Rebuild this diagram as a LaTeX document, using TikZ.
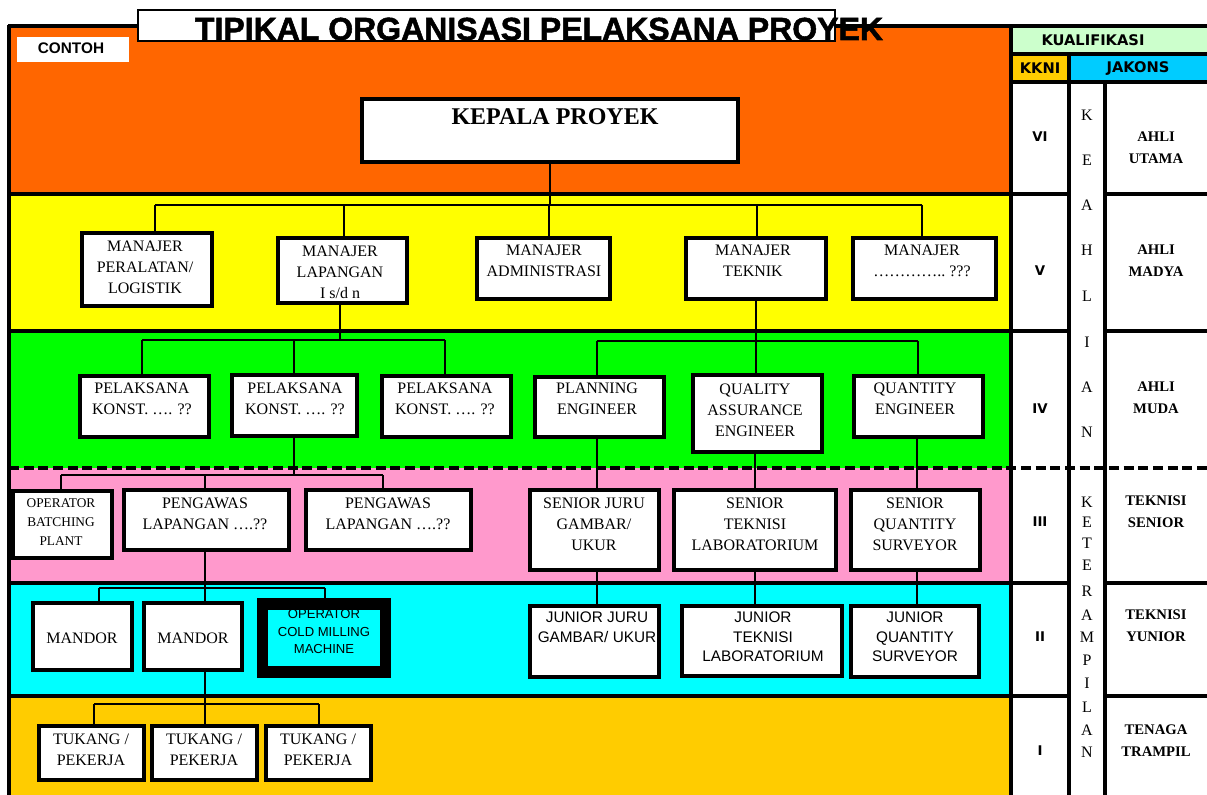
\documentclass[tikz,border=0pt]{standalone}
\usepackage{fontspec}
\setmainfont{Liberation Serif}
\newfontfamily\arialf{Liberation Sans}
\newfontfamily\titlef[BoldFeatures={FakeBold=1.6}]{Liberation Sans}
\newfontfamily\verdf{DejaVu Sans}
\usetikzlibrary{fit}
\definecolor{cOrange}{HTML}{FF6600}
\definecolor{cYellow}{HTML}{FFFF00}
\definecolor{cGreen}{HTML}{00FF00}
\definecolor{cPink}{HTML}{FF99CC}
\definecolor{cCyan}{HTML}{00FFFF}
\definecolor{cGold}{HTML}{FFCC00}
\definecolor{cLight}{HTML}{CCFFCC}
\definecolor{cJak}{HTML}{00CCFF}
\begin{document}
\begin{tikzpicture}[x=0.75pt,y=-0.75pt,
  box/.style={draw=black,fill=white,line width=2.4pt,inner sep=0pt},
  conn/.style={line width=2.2pt},
  grid/.style={line width=2.4pt},
  bt/.style={font=\fontsize{12}{15.75}\selectfont,align=center,inner sep=0pt},
  sbt/.style={font=\fontsize{10}{14}\selectfont,align=center,inner sep=0pt},
  st/.style={font=\arialf\fontsize{11.5}{14.6}\selectfont,align=center,inner sep=0pt},
  hd/.style={font=\verdf\bfseries\fontsize{11}{13}\selectfont,inner sep=0pt},
  rn/.style={font=\verdf\bfseries\fontsize{10}{12}\selectfont,inner sep=0pt},
  lab/.style={font=\bfseries\fontsize{11}{16.5}\selectfont,align=center,inner sep=0pt},
  vl/.style={font=\fontsize{12}{12}\selectfont,inner sep=0pt}]
\useasboundingbox (0,0) rectangle (1207,795);
\fill[white] (0,0) rectangle (1207,795);
% bands
\fill[cOrange] (9,26) rectangle (1011,194);
\fill[cYellow] (9,194) rectangle (1011,331);
\fill[cGreen] (9,331) rectangle (1011,468);
\fill[cPink] (9,468) rectangle (1011,583);
\fill[cCyan] (9,583) rectangle (1011,696);
\fill[cGold] (9,696) rectangle (1011,795);
% table header
\fill[cLight] (1011,26) rectangle (1207,54);
\fill[cGold] (1011,54) rectangle (1069,82);
\fill[cJak] (1069,54) rectangle (1207,82);
% grid lines
\draw[grid] (9,25) -- (9,795);
\draw[grid] (1011,25) -- (1011,795);
\draw[grid] (1069,54) -- (1069,795);
\draw[grid] (1105,82) -- (1105,795);
\draw[grid] (8,26) -- (1207,26);
\draw[grid] (1011,54) -- (1207,54);
\draw[grid] (1011,82) -- (1207,82);
\foreach \yy in {194,331,583,696}{
  \draw[grid] (9,\yy) -- (1069,\yy);
  \draw[grid] (1105,\yy) -- (1207,\yy);
}
\draw[grid,dash pattern=on 7.5pt off 3.5pt] (9,468) -- (1207,468);
% title
\draw[line width=1.8pt,fill=white] (138,10) rectangle (835,41);
\node[font=\titlef\bfseries\fontsize{24}{26}\selectfont,anchor=base,inner sep=0pt] (title) at (539,40) {TIPIKAL ORGANISASI PELAKSANA PROYEK};
\fill[white] (17,37) rectangle (129,62);
\node[font=\arialf\bfseries\fontsize{11.5}{13}\selectfont,inner sep=0pt] (contoh) at (71,48) {CONTOH};
% boxes
\node[box,fit={(362,99) (738,162)}] (kp) {};
\node[box,fit={(82,233) (212,306)}] (m1) {};
\node[box,fit={(278,238) (407,303)}] (m2) {};
\node[box,fit={(477,238) (610,299)}] (m3) {};
\node[box,fit={(686,238) (826,299)}] (m4) {};
\node[box,fit={(853,238) (996,299)}] (m5) {};
\node[box,fit={(80,376) (209,437)}] (p1) {};
\node[box,fit={(232,375) (357,436)}] (p2) {};
\node[box,fit={(382,376) (511,437)}] (p3) {};
\node[box,fit={(535,377) (664,437)}] (pe) {};
\node[box,fit={(693,375) (822,452)}] (qa) {};
\node[box,fit={(854,376) (983,437)}] (qe) {};
\node[box,fit={(13,491) (112,558)}] (obp) {};
\node[box,fit={(124,490) (289,550)}] (pg1) {};
\node[box,fit={(306,490) (471,550)}] (pg2) {};
\node[box,fit={(530,490) (659,570)}] (sj) {};
\node[box,fit={(674,490) (836,570)}] (stk) {};
\node[box,fit={(851,490) (980,570)}] (sq) {};
\node[box,fit={(33,603) (132,670)}] (md1) {};
\node[box,fit={(144,603) (242,670)}] (md2) {};
\node[draw=black,fill=cCyan,line width=8.6pt,inner sep=0pt,fit={(262.5,604) (385.5,672)}] (ocm) {};
\node[box,fit={(530,606) (659,677)}] (jj) {};
\node[box,fit={(682,606) (842,676)}] (jt) {};
\node[box,fit={(851,606) (979,677)}] (jq) {};
\node[box,fit={(39,726) (144,780)}] (t1) {};
\node[box,fit={(152,726) (257,780)}] (t2) {};
\node[box,fit={(266,726) (371,780)}] (t3) {};
% connector coordinates
\coordinate (bA) at (550,205);
\coordinate (bA1) at (155,205);
\coordinate (bA2) at (344,205);
\coordinate (bA3) at (549,205);
\coordinate (bA4) at (757,205);
\coordinate (bA5) at (922,205);
\coordinate (bB) at (340,340);
\coordinate (bB1) at (142,340);
\coordinate (bB2) at (294,340);
\coordinate (bB3) at (445,340);
\coordinate (bC) at (756,341);
\coordinate (bC1) at (597,341);
\coordinate (bC3) at (918,341);
\coordinate (bD) at (294,475);
\coordinate (bD1) at (61,475);
\coordinate (bD2) at (205,475);
\coordinate (bD3) at (383,475);
\coordinate (bE) at (205,588);
\coordinate (bE1) at (99,588);
\coordinate (bE3) at (325,588);
\coordinate (bF) at (205,704);
\coordinate (bF1) at (94,704);
\coordinate (bF3) at (319,704);
\coordinate (xa) at (597,0);
\coordinate (xb) at (755,0);
\coordinate (xc) at (917,0);
% connectors
\draw[conn] (kp.south -| bA) -- (bA);
\draw[conn] (bA1) -- (bA5);
\foreach \c/\n in {bA1/m1,bA2/m2,bA3/m3,bA4/m4,bA5/m5}{\draw[conn] (\c) -- (\c |- \n.north);}
\draw[conn] (m2.south -| bB) -- (bB);
\draw[conn] (bB1) -- (bB3);
\foreach \c/\n in {bB1/p1,bB2/p2,bB3/p3}{\draw[conn] (\c) -- (\c |- \n.north);}
\draw[conn] (m4.south -| bC) -- (bC);
\draw[conn] (bC1) -- (bC3);
\foreach \c/\n in {bC1/pe,bC/qa,bC3/qe}{\draw[conn] (\c) -- (\c |- \n.north);}
\draw[conn] (pe.south -| xa) -- (sj.north -| xa);
\draw[conn] (qa.south -| xb) -- (stk.north -| xb);
\draw[conn] (qe.south -| xc) -- (sq.north -| xc);
\draw[conn] (sj.south -| xa) -- (jj.north -| xa);
\draw[conn] (stk.south -| xb) -- (jt.north -| xb);
\draw[conn] (sq.south -| xc) -- (jq.north -| xc);
\draw[conn] (p2.south -| bD) -- (bD);
\draw[conn] (bD1) -- (bD3);
\foreach \c/\n in {bD1/obp,bD2/pg1,bD3/pg2}{\draw[conn] (\c) -- (\c |- \n.north);}
\draw[conn] (pg1.south -| bE) -- (bE);
\draw[conn] (bE1) -- (bE3);
\foreach \c/\n in {bE1/md1,bE/md2}{\draw[conn] (\c) -- (\c |- \n.north);}
\draw[conn] (bE3) -- (bE3 |- ocm.north);
\draw[conn] (md2.south -| bF) -- (bF);
\draw[conn] (bF1) -- (bF3);
\foreach \c/\n in {bF1/t1,bF/t2,bF3/t3}{\draw[conn] (\c) -- (\c |- \n.north);}
% box texts
\node[font=\bfseries\fontsize{18}{20}\selectfont,inner sep=0pt] (kpt) at (555,117) {KEPALA PROYEK};
\node[bt] (m1t) at (145,267) {MANAJER\\PERALATAN/\\LOGISTIK};
\node[bt] (m2t) at (340,272) {MANAJER\\LAPANGAN\\I s/d n};
\node[bt] (m3t) at (544,261) {MANAJER\\ADMINISTRASI};
\node[bt] (m4t) at (753,261) {MANAJER\\TEKNIK};
\node[bt] (m5t) at (922,261) {MANAJER\\…………..~???};
\node[bt] (p1t) at (142,399) {PELAKSANA\\KONST. …. ??};
\node[bt] (p2t) at (295,399) {PELAKSANA\\KONST. …. ??};
\node[bt] (p3t) at (445,399) {PELAKSANA\\KONST. …. ??};
\node[bt] (pet) at (597,399) {PLANNING\\ENGINEER};
\node[bt] (qat) at (755,410) {QUALITY\\ASSURANCE\\ENGINEER};
\node[bt] (qet) at (915,399) {QUANTITY\\ENGINEER};
\node[sbt] (obpt) at (61,522) {OPERATOR\\BATCHING\\PLANT};
\node[bt] (pg1t) at (205,514) {PENGAWAS\\LAPANGAN ….??};
\node[bt] (pg2t) at (388,514) {PENGAWAS\\LAPANGAN ….??};
\node[bt] (sjt) at (594,524) {SENIOR JURU\\GAMBAR/\\UKUR};
\node[bt] (stt) at (755,524) {SENIOR\\TEKNISI\\LABORATORIUM};
\node[bt] (sqt) at (915,524) {SENIOR\\QUANTITY\\SURVEYOR};
\node[bt] (md1t) at (82,638) {MANDOR};
\node[bt] (md2t) at (193,638) {MANDOR};
\node[font=\arialf\fontsize{9.8}{13}\selectfont,align=center,inner sep=0pt] (ocmt) at (324,631.5) {OPERATOR\\COLD MILLING\\MACHINE};
\node[st] (jjt) at (597,627) {JUNIOR JURU\\GAMBAR/ UKUR};
\node[st] (jtt) at (763,637) {JUNIOR\\TEKNISI\\LABORATORIUM};
\node[st] (jqt) at (915,637) {JUNIOR\\QUANTITY\\SURVEYOR};
\node[bt] (t1t) at (91,750) {TUKANG /\\PEKERJA};
\node[bt] (t2t) at (204,750) {TUKANG /\\PEKERJA};
\node[bt] (t3t) at (318,750) {TUKANG /\\PEKERJA};
% table texts
\node[hd] (kual) at (1093,40) {KUALIFIKASI};
\node[hd] (kkni) at (1040,68) {KKNI};
\node[hd] (jak) at (1138,69) {JAKONS};
\node[rn] (r6) at (1040,137) {VI};
\node[rn] (r5) at (1040,271) {V};
\node[rn] (r4) at (1040,409) {IV};
\node[rn] (r3) at (1040,522) {III};
\node[rn] (r2) at (1040,637) {II};
\node[rn] (r1) at (1040,751) {I};
\node[lab] (l6) at (1156,148) {AHLI\\UTAMA};
\node[lab] (l5) at (1156,261) {AHLI\\MADYA};
\node[lab] (l4) at (1156,398) {AHLI\\MUDA};
\node[lab] (l3) at (1156,512) {TEKNISI\\SENIOR};
\node[lab] (l2) at (1156,626) {TEKNISI\\YUNIOR};
\node[lab] (l1) at (1156,741) {TENAGA\\TRAMPIL};
\foreach \ch/\yy [count=\i] in {K/115,E/160,A/205,H/250,L/296,I/342,A/387,N/432}{
  \node[vl] (ka\i) at (1087,\yy) {\ch};}
\foreach \ch/\yy [count=\i] in {K/502,E/522,T/543,E/565,R/591,A/615,M/637,P/660,I/683,L/707,A/730,N/752}{
  \node[vl] (kt\i) at (1087,\yy) {\ch};}
\end{tikzpicture}
\end{document}
